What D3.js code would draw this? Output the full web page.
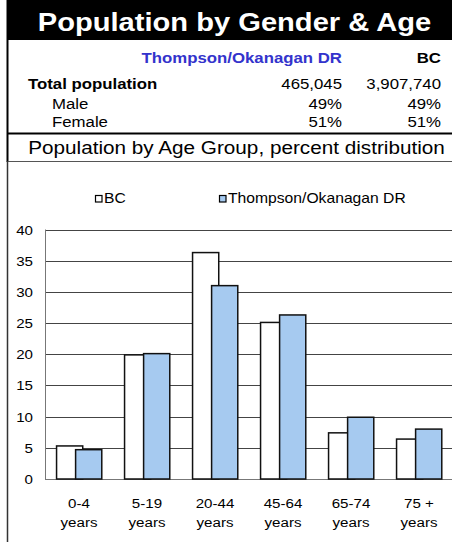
<!DOCTYPE html>
<html>
<head>
<meta charset="utf-8">
<script src="https://cdn.jsdelivr.net/npm/d3@7"></script>
<style>
  body { margin: 0; background: #fff; }
  svg { display: block; font-family: "Liberation Sans", Arial, sans-serif; }
</style>
</head>
<body>
<div id="chart"></div>
<script>
// data
var title = "Population by Gender & Age";
var regionName = "Thompson/Okanagan DR";
var provName = "BC";
var tableRows = ["Total population", "Male", "Female"];
var regionCol = ["465,045", "49%", "51%"];
var provCol = ["3,907,740", "49%", "51%"];
var subtitle = "Population by Age Group, percent distribution";

var ageGroups = ["0-4", "5-19", "20-44", "45-64", "65-74", "75 +"];
var ageUnit = "years";
var seriesNames = ["BC", "Thompson/Okanagan DR"];
var bcValues = [5.3, 19.9, 36.3, 25.1, 7.4, 6.4];
var regionValues = [4.7, 20.1, 31.0, 26.3, 9.9, 8.0];
var yTicks = [0, 5, 10, 15, 20, 25, 30, 35, 40];

var W = 452, H = 542;
var SX = 1.12; // text in the original is a bit wide

var svg = d3.select("#chart").append("svg")
  .attr("width", W)
  .attr("height", H);

function txt(x, y, str, size, anchor, weight, fill) {
  return svg.append("text")
    .attr("transform", "translate(" + x + "," + y + ") scale(" + SX + ",1)")
    .attr("text-anchor", anchor || "start")
    .style("font-size", size + "px")
    .style("font-weight", weight || "normal")
    .attr("fill", fill || "#000")
    .text(str);
}

// title bar
svg.append("rect")
  .attr("x", 7).attr("y", 0)
  .attr("width", W - 7).attr("height", 40)
  .attr("fill", "#000");
txt(234.5, 31, title, 26, "middle", "bold", "#fff");

// frame lines
svg.append("line").attr("x1", 7.5).attr("x2", 7.5).attr("y1", 0).attr("y2", 162)
  .attr("stroke", "#000").attr("stroke-width", 2);
svg.append("line").attr("x1", 7).attr("x2", W).attr("y1", 133.5).attr("y2", 133.5)
  .attr("stroke", "#000").attr("stroke-width", 2);
svg.append("line").attr("x1", 7).attr("x2", W).attr("y1", 161.5).attr("y2", 161.5)
  .attr("stroke", "#555").attr("stroke-width", 1);
svg.append("line").attr("x1", 7.5).attr("x2", 7.5).attr("y1", 161).attr("y2", H)
  .attr("stroke", "#333").attr("stroke-width", 1.5);

// gender table
txt(342, 62.5, regionName, 15, "end", "bold", "#3333cc");
txt(441, 62.5, provName, 15, "end", "bold");
var rowY = [88.5, 108.5, 126.5];
tableRows.forEach(function(r, i) {
  txt(i === 0 ? 28 : 52, rowY[i], r, 15, "start", i === 0 ? "bold" : "normal");
  txt(342, rowY[i], regionCol[i], 15, "end");
  txt(441, rowY[i], provCol[i], 15, "end");
});

txt(236.5, 153.5, subtitle, 18.5, "middle");

// chart
var x0 = d3.scaleBand()
  .domain(ageGroups)
  .range([45, 453])
  .padding(0);

var y = d3.scaleLinear()
  .domain([0, 40])
  .range([479, 229.5]);

var bw = x0.bandwidth();
var barW = bw * 0.385;
var offsets = [bw * 0.17, bw * 0.45];

// gridlines
svg.append("g")
  .selectAll("line")
  .data(yTicks)
  .enter().append("line")
    .attr("x1", 45).attr("x2", W)
    .attr("y1", function(d) { return Math.round(y(d)) + 0.5; })
    .attr("y2", function(d) { return Math.round(y(d)) + 0.5; })
    .attr("stroke", function(d) { return d === 0 ? "#777" : "#444"; })
    .attr("stroke-width", 1);

svg.append("line")
  .attr("x1", 45.5).attr("x2", 45.5)
  .attr("y1", y(40)).attr("y2", y(0))
  .attr("stroke", "#777");

// y labels
yTicks.forEach(function(t) {
  txt(33, y(t) + 5, t, 13.5, "end");
});

// bars
var series = [
  {name: seriesNames[0], values: bcValues, fill: "#fff"},
  {name: seriesNames[1], values: regionValues, fill: "#a6caf0"}
];

series.forEach(function(s, si) {
  svg.append("g")
    .selectAll("rect")
    .data(s.values)
    .enter().append("rect")
      .attr("x", function(d, i) { return x0(ageGroups[i]) + offsets[si]; })
      .attr("y", function(d) { return y(d); })
      .attr("width", barW)
      .attr("height", function(d) { return y(0) - y(d); })
      .attr("fill", s.fill)
      .attr("stroke", "#111")
      .attr("stroke-width", 1.5);
});

// x labels
ageGroups.forEach(function(g) {
  var cx = x0(g) + bw / 2;
  txt(cx, 508, g, 13.5, "middle");
  txt(cx, 526.5, ageUnit, 13.5, "middle");
});

// legend
var legX = [95, 219];
series.forEach(function(s, i) {
  svg.append("rect")
    .attr("x", legX[i] + 0.5).attr("y", 195.5)
    .attr("width", 6.5).attr("height", 6.5)
    .attr("fill", s.fill)
    .attr("stroke", "#000")
    .attr("stroke-width", 1.2);
  txt(legX[i] + 9, 203, s.name, 14, "start");
});
</script>
</body>
</html>
